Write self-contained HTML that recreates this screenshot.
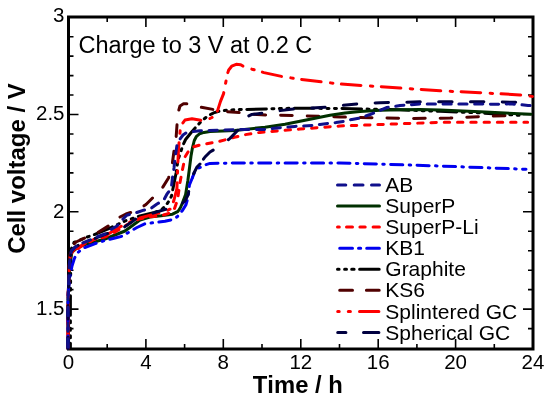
<!DOCTYPE html>
<html><head><meta charset="utf-8"><style>
html,body{margin:0;padding:0;background:#fff;}
svg{display:block;will-change:transform;}
text{font-family:"Liberation Sans",sans-serif;fill:#000;font-kerning:none;}
</style></head><body>
<svg width="550" height="401" viewBox="0 0 550 401">
<rect width="550" height="401" fill="#fff"/>
<path d="M107.2,349.0 V344.0 M107.2,17.0 V22.0 M145.9,349.0 V339.0 M145.9,17.0 V27.0 M184.6,349.0 V344.0 M184.6,17.0 V22.0 M223.3,349.0 V339.0 M223.3,17.0 V27.0 M262.0,349.0 V344.0 M262.0,17.0 V22.0 M300.8,349.0 V339.0 M300.8,17.0 V27.0 M339.5,349.0 V344.0 M339.5,17.0 V22.0 M378.2,349.0 V339.0 M378.2,17.0 V27.0 M416.9,349.0 V344.0 M416.9,17.0 V22.0 M455.6,349.0 V339.0 M455.6,17.0 V27.0 M494.3,349.0 V344.0 M494.3,17.0 V22.0 M68.5,328.6 H73.5 M533.0,328.6 H528.0 M68.5,309.1 H78.5 M533.0,309.1 H523.0 M68.5,289.6 H73.5 M533.0,289.6 H528.0 M68.5,270.2 H73.5 M533.0,270.2 H528.0 M68.5,250.7 H73.5 M533.0,250.7 H528.0 M68.5,231.3 H73.5 M533.0,231.3 H528.0 M68.5,211.8 H78.5 M533.0,211.8 H523.0 M68.5,192.3 H73.5 M533.0,192.3 H528.0 M68.5,172.9 H73.5 M533.0,172.9 H528.0 M68.5,153.4 H73.5 M533.0,153.4 H528.0 M68.5,134.0 H73.5 M533.0,134.0 H528.0 M68.5,114.5 H78.5 M533.0,114.5 H523.0 M68.5,95.0 H73.5 M533.0,95.0 H528.0 M68.5,75.6 H73.5 M533.0,75.6 H528.0 M68.5,56.1 H73.5 M533.0,56.1 H528.0 M68.5,36.7 H73.5 M533.0,36.7 H528.0" stroke="#000" stroke-width="1.6" fill="none"/>
<rect x="68.5" y="17.0" width="464.5" height="332.0" fill="none" stroke="#000" stroke-width="3"/>
<path d="M70.4,348.5 L70.4,300.0 L70.8,260.0 L71.3,249.0 L74.0,242.5 L86.4,237.3 L94.0,234.7 L110.0,228.0 L125.0,221.0 L140.0,216.0 L154.5,212.5 L161.0,210.0 L165.7,205.7 L169.0,201.0 L171.5,196.0 L173.7,185.0 L176.2,172.5 L178.0,160.0 L181.0,151.0 L183.0,145.0 L185.6,139.5 L191.2,132.5 L196.8,126.0 L202.4,120.3 L208.0,115.8 L213.6,112.9" stroke="#000000" stroke-width="3" fill="none" stroke-linecap="round" stroke-linejoin="round" stroke-dasharray="19.6 5.5 2 5.5 2 5.5 2 5.5" stroke-dashoffset="14.37"/>
<path d="M213.6,112.9 L219.2,111.2 L227.0,110.2 L235.0,109.7 L295.0,108.2 L340.0,108.5 L400.0,109.8 L440.0,111.3 L480.0,112.9 L519.0,115.3" stroke="#000000" stroke-width="3" fill="none" stroke-linecap="round" stroke-linejoin="round" stroke-dasharray="19.6 5.5 2 5.5 2 5.5 2 5.5" stroke-dashoffset="14.06"/>
<path d="M68.0,348.5 L68.0,300.0 L69.5,262.0 L70.5,250.0 L72.5,245.5 L76.0,242.0 L86.0,237.5 L97.0,233.0 L110.0,225.0 L119.0,217.5 L126.0,214.0 L132.0,212.0 L140.0,208.5 L146.0,204.5 L153.0,197.5 L158.0,193.0 L162.0,188.5 L168.5,178.0 L172.0,166.0 L174.0,151.0 L176.0,139.0 L177.0,125.0 L178.0,113.0 L180.0,106.0 L183.5,103.8 L188.0,103.8 L199.5,107.0 L213.5,109.5 L225.0,111.5 L240.0,112.6 L257.0,114.6 L267.0,115.0 L293.0,115.5 L320.0,116.4 L340.0,117.0 L412.0,118.5 L450.0,118.0 L480.0,116.6 L506.0,115.6 L517.0,115.6" stroke="#500000" stroke-width="3" fill="none" stroke-linecap="round" stroke-linejoin="round" stroke-dasharray="11.6 15" stroke-dashoffset="0.21"/>
<path d="M68.0,348.5 L68.0,300.0 L69.8,262.0 L72.0,252.0 L77.0,248.0 L85.0,244.5 L105.0,239.0 L125.0,231.0 L140.0,220.0 L150.0,217.0 L161.0,215.8 L172.5,214.2 L178.1,211.3 L180.5,207.5 L182.4,203.0 L185.6,194.5 L187.8,181.0 L189.5,168.0 L191.0,156.0 L192.5,147.5 L194.3,140.5 L196.5,136.3 L199.5,133.8 L204.0,132.4 L210.0,131.6 L235.0,130.4 L265.0,127.2 L285.0,124.3 L300.0,121.3 L315.0,118.2 L330.0,115.3 L345.0,113.0 L360.0,111.5 L380.0,110.2 L400.0,109.7 L420.0,109.6 L440.0,110.0 L480.0,111.8 L531.0,114.3" stroke="#003000" stroke-width="3" fill="none" stroke-linecap="round" stroke-linejoin="round"/>
<path d="M68.0,348.5 L68.0,300.0 L69.5,262.0 L70.5,254.0 L74.0,251.0 L76.7,249.6 L81.9,245.9 L94.0,239.5 L105.0,237.0 L115.0,232.0 L120.0,229.0 L130.0,223.0 L139.0,219.0 L149.0,217.0 L161.0,215.8 L168.0,213.6 L174.0,210.0 L177.5,200.0 L180.0,182.5 L182.0,172.0 L183.7,163.7 L185.0,157.0 L188.0,152.0 L193.0,147.0 L200.0,145.0 L219.5,141.4 L234.4,137.3 L245.0,134.7 L260.0,132.4 L300.0,129.0 L340.0,126.0 L440.0,122.3 L527.6,122.3" stroke="#ff0000" stroke-width="3" fill="none" stroke-linecap="round" stroke-linejoin="round" stroke-dasharray="5.4 7.88" stroke-dashoffset="2.13"/>
<path d="M68.0,348.5 L68.0,300.0 L69.5,262.0 L70.5,254.0 L75.0,249.0 L85.0,243.5 L95.0,239.0 L110.0,233.0 L125.0,224.0 L140.0,218.0 L155.0,214.0 L166.0,211.0 L171.2,208.7 L174.0,200.0 L176.9,188.7 L177.5,172.5 L178.0,160.0 L178.5,149.0 L179.5,138.0 L180.2,130.0 L181.5,125.0 L185.0,120.0 L192.0,118.8 L201.0,120.2 L207.5,119.7 L212.0,117.5 L216.7,113.4 L220.5,101.4 L223.5,93.9 L225.7,82.7 L227.2,74.5 L228.7,70.0 L231.7,66.2 L236.2,64.3 L240.7,64.7 L243.0,66.2 L252.0,69.2 L264.0,72.6 L282.0,76.5 L298.0,79.0 L340.0,84.0 L400.0,88.0 L440.0,90.8 L480.0,92.7 L520.0,94.9 L533.0,96.5" stroke="#ff0000" stroke-width="3" fill="none" stroke-linecap="round" stroke-linejoin="round" stroke-dasharray="19.6 9.45 2.45 8.5" stroke-dashoffset="26.64"/>
<path d="M68.0,348.5 L68.0,300.0 L68.6,288.0 L70.0,276.0 L72.0,266.0 L74.2,259.0 L76.0,255.0 L78.2,252.2 L83.4,248.1 L94.5,243.8 L105.0,240.5 L115.0,238.0 L123.0,236.0 L128.0,232.7 L137.0,227.5 L145.0,223.7 L154.0,222.6 L165.0,221.2 L171.3,219.8 L177.0,217.0 L182.6,210.2 L186.0,204.6 L188.2,196.7 L189.4,185.0 L192.5,177.5" stroke="#0000f0" stroke-width="3" fill="none" stroke-linecap="round" stroke-linejoin="round" stroke-dasharray="12.1 6.4 1.5 6.4" stroke-dashoffset="25.80"/>
<path d="M192.5,177.5 L195.0,171.0 L197.5,168.5 L201.2,166.9 L205.0,165.0 L210.0,163.4 L240.0,163.0 L340.0,162.9 L440.0,166.0 L526.0,169.3" stroke="#0000f0" stroke-width="3" fill="none" stroke-linecap="round" stroke-linejoin="round" stroke-dasharray="12.1 6.4 1.5 6.4" stroke-dashoffset="6.47"/>
<path d="M68.0,348.5 L68.0,300.0 L69.5,262.0 L71.0,252.0 L75.0,247.0 L85.0,242.0 L95.0,238.5 L110.0,232.5 L124.5,227.0 L131.0,222.6 L137.0,218.0 L151.5,213.6 L164.0,209.7 L172.0,208.0 L180.0,205.5 L185.0,201.0 L188.0,195.0 L190.0,185.0 L193.0,175.0 L197.0,167.0 L200.0,164.0" stroke="#000040" stroke-width="3" fill="none" stroke-linecap="round" stroke-linejoin="round" stroke-dasharray="13.4 18.4" stroke-dashoffset="2.25"/>
<path d="M200.0,164.0 L205.0,157.0 L210.0,152.0 L219.0,146.6 L230.0,138.4 L240.0,128.0 L244.0,121.0 L247.5,116.5 L251.4,114.6 L263.4,113.0 L278.6,110.8 L295.0,108.8 L327.0,107.1 L342.0,105.5 L358.0,103.8 L380.0,102.8 L420.0,101.8 L480.0,101.8 L520.0,102.3 L533.0,102.8" stroke="#000040" stroke-width="3" fill="none" stroke-linecap="round" stroke-linejoin="round" stroke-dasharray="13.4 18.4" stroke-dashoffset="25.86"/>
<path d="M68.0,348.5 L68.0,300.0 L69.5,262.0 L71.5,250.4 L78.9,244.4 L90.0,240.0 L95.0,237.5 L105.0,234.0 L110.0,230.0 L117.0,226.0 L121.0,221.0 L126.7,215.3 L136.9,212.5 L143.6,210.2 L151.5,208.0 L157.0,204.0 L163.8,200.1 L167.0,194.0 L171.2,188.7 L172.5,177.5 L174.0,168.0 L175.5,155.0 L177.0,145.0 L180.0,139.0 L183.0,135.0 L186.0,133.0 L190.0,132.0 L200.0,130.8 L240.0,129.5 L265.0,129.4 L280.0,127.7 L295.0,126.4 L312.0,125.4 L320.0,124.4 L328.0,123.4 L336.0,122.6 L344.0,121.3 L352.0,119.4 L360.0,118.0 L370.0,114.5 L380.0,110.5 L387.0,107.5 L400.0,105.5 L420.0,104.0 L480.0,104.0 L500.0,104.3 L510.0,103.8 L520.0,104.6 L528.0,105.4 L533.0,105.8" stroke="#10108c" stroke-width="3" fill="none" stroke-linecap="round" stroke-linejoin="round" stroke-dasharray="8.2 7.6" stroke-dashoffset="14.32"/>
<text x="68.5" y="369" font-size="20.5" text-anchor="middle">0</text>
<text x="145.9" y="369" font-size="20.5" text-anchor="middle">4</text>
<text x="223.3" y="369" font-size="20.5" text-anchor="middle">8</text>
<text x="300.8" y="369" font-size="20.5" text-anchor="middle">12</text>
<text x="378.2" y="369" font-size="20.5" text-anchor="middle">16</text>
<text x="455.6" y="369" font-size="20.5" text-anchor="middle">20</text>
<text x="533.0" y="369" font-size="20.5" text-anchor="middle">24</text>
<text x="64.5" y="22.2" font-size="20.5" text-anchor="end">3</text>
<text x="64.5" y="120.1" font-size="20.5" text-anchor="end">2.5</text>
<text x="64.5" y="217.7" font-size="20.5" text-anchor="end">2</text>
<text x="64.5" y="315.4" font-size="20.5" text-anchor="end">1.5</text>
<text x="297.8" y="392.9" font-size="23.8" font-weight="bold" text-anchor="middle">Time / h</text>
<text transform="translate(25.3,168.5) rotate(-90)" font-size="24" font-weight="bold" text-anchor="middle">Cell voltage / V</text>
<text x="78.5" y="53" font-size="23.5">Charge to 3 V at 0.2 C</text>
<path d="M337.5,185.0 H345.8 M354.2,185.0 H363.0 M371.5,185.0 H379.5" stroke="#10108c" stroke-width="3" fill="none" stroke-linecap="round"/>
<text x="385.3" y="191.85" font-size="21">AB</text>
<path d="M337.5,206.1 H379.5" stroke="#003000" stroke-width="3" fill="none" stroke-linecap="round"/>
<text x="385.3" y="212.97" font-size="21">SuperP</text>
<path d="M337.5,227.1 H339.3 M346.5,227.1 H352.5 M359.9,227.1 H365.2 M373.1,227.1 H379.4" stroke="#ff0000" stroke-width="3" fill="none" stroke-linecap="round"/>
<text x="385.3" y="234.09" font-size="21">SuperP-Li</text>
<path d="M339.7,248.2 H352.5 M358.5,248.2 H360.7 M366.7,248.2 H379.4" stroke="#0000f0" stroke-width="3" fill="none" stroke-linecap="round"/>
<text x="385.3" y="255.21" font-size="21">KB1</text>
<path d="M337.5,269.2 H339.1 M344.6,269.2 H346.5 M351.7,269.2 H354.1 M359.6,269.2 H379.2" stroke="#000000" stroke-width="3" fill="none" stroke-linecap="round"/>
<text x="385.3" y="276.33" font-size="21">Graphite</text>
<path d="M339.7,290.3 H352.5 M366.4,290.3 H379.2" stroke="#500000" stroke-width="3" fill="none" stroke-linecap="round"/>
<text x="385.3" y="297.45" font-size="21">KS6</text>
<path d="M337.7,311.4 H339.2 M348.3,311.4 H350.4 M359.5,311.4 H378.9" stroke="#ff0000" stroke-width="3" fill="none" stroke-linecap="round"/>
<text x="385.3" y="318.57" font-size="21">Splintered GC</text>
<path d="M337.7,332.4 H345.9 M363.5,332.4 H378.9" stroke="#000040" stroke-width="3" fill="none" stroke-linecap="round"/>
<text x="385.3" y="339.69" font-size="21">Spherical GC</text>
</svg></body></html>
